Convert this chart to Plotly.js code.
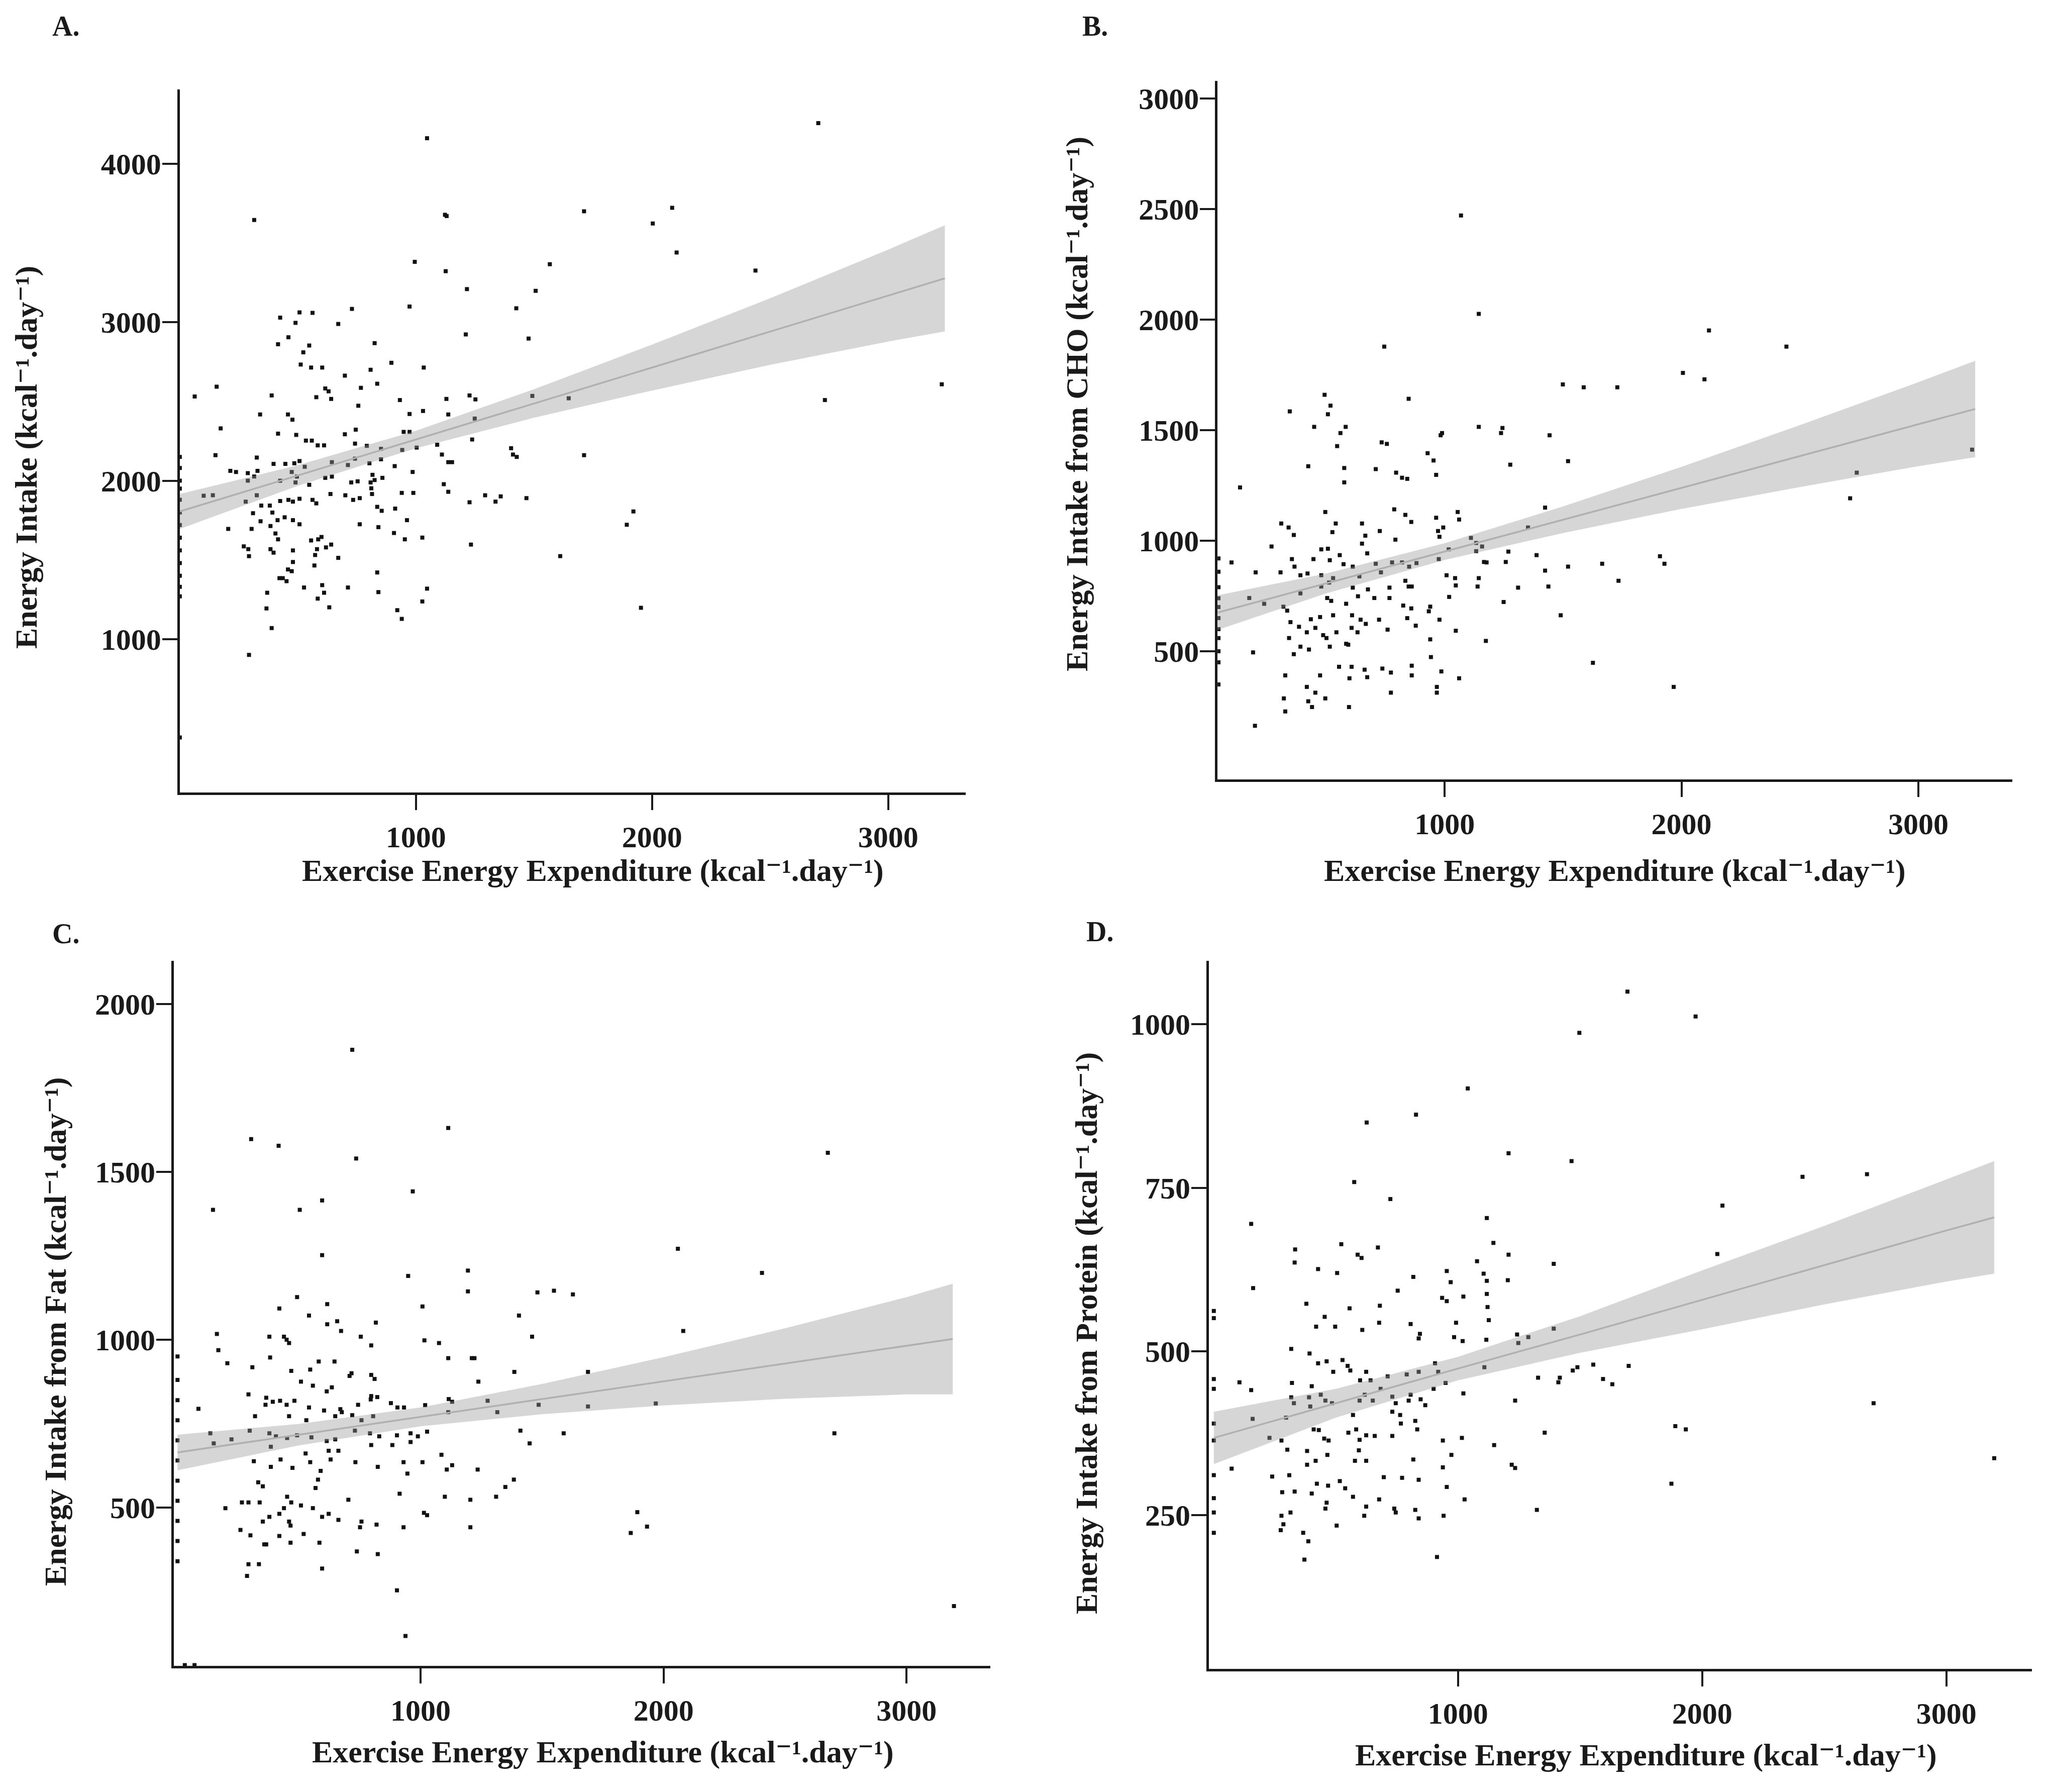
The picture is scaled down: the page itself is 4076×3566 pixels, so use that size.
<!DOCTYPE html>
<html>
<head>
<meta charset="utf-8">
<script src="https://cdn.plot.ly/plotly-3.0.1.min.js"></script>
<style>html,body{margin:0;padding:0;background:#fff;}#chart{width:4076px;height:3566px;}</style>
</head>
<body>
<div id="chart"></div>
<script>
// ---------- Panel A: Energy Intake ----------
const aX = [1047,2704,315,1123,1130,1712,2085,2003,2104,2438,995,1126,1567,1216,1507,1425,973,729,507,562,425,490,671,1211,1477,460,416,825,548,523,896,512,1033,556,603,808,699,616,630,767,836,156,63,389,578,641,756,932,1129,1227,1252,1493,1647,2732,3227,340,458,477,973,1030,1137,1249,173,416,493,699,745,948,973,534,559,611,584,1090,1238,742,792,852,942,1003,1110,1137,1153,151,1403,1411,1427,1712,326,397,447,485,507,529,712,644,742,803,852,910,214,238,288,329,474,496,616,644,816,808,825,858,986,288,315,425,490,548,726,753,811,814,940,989,1118,1137,1293,1359,1337,1227,1468,101,140,279,326,345,381,425,460,479,507,562,578,638,701,734,762,836,855,912,310,342,392,414,444,479,507,205,304,384,405,416,762,841,962,1027,907,953,271,290,384,397,479,556,586,600,581,619,641,573,293,479,671,570,1233,1611,458,474,422,436,452,526,603,712,836,841,370,367,611,584,633,1047,1027,921,940,389,293,1953,1893,1921,101,0,0,0,0,0,0,0,0,0,0,0,0,0,0];
const aY = [4161,4256,3645,3678,3670,3700,3722,3623,3440,3326,3381,3322,3366,3209,3198,3088,3099,3084,3062,3059,3029,2996,2989,2923,2897,2905,2861,2868,2853,2810,2744,2733,2714,2714,2714,2700,2663,2582,2564,2586,2612,2593,2531,2538,2527,2516,2473,2509,2516,2538,2513,2535,2520,2509,2608,2418,2418,2385,2421,2440,2418,2392,2330,2297,2289,2293,2322,2308,2308,2253,2253,2223,2223,2227,2260,2234,2220,2201,2194,2209,2165,2117,2117,2161,2205,2165,2150,2161,2146,2106,2106,2110,2124,2088,2099,2117,2139,2110,2135,2092,2062,2055,2048,2062,2055,2026,2018,2026,2037,1989,2004,2018,2055,2000,2026,2000,1989,1974,1989,1996,1952,1916,1923,1923,1978,1930,1908,1901,1868,1864,1890,1905,1908,1868,1908,1843,1843,1872,1879,1868,1886,1879,1857,1916,1908,1879,1890,1835,1810,1824,1795,1744,1799,1751,1769,1751,1725,1696,1696,1714,1667,1630,1725,1707,1751,1641,1670,1630,1586,1568,1568,1546,1560,1623,1630,1645,1568,1579,1597,1531,1524,1487,1513,1465,1597,1524,1440,1429,1385,1385,1366,1326,1341,1326,1421,1297,1293,1194,1293,1256,1201,1319,1238,1183,1128,1070,901,1198,1722,1806,18,2150,2080,2000,1950,1880,1800,1720,1640,1560,1480,1400,1330,1270,380];
const aFitX = [0,500,1000,1500,2000,2500,3000,3240];
const aFit  = [1806,2033,2260,2487,2714,2941,3168,3277];
const aLo   = [1696,1968,2205,2397,2569,2731,2878,2942];
const aHi   = [1916,2098,2315,2577,2859,3151,3458,3612];

// ---------- Panel B: Energy Intake from CHO ----------
const bX = [1069,1144,745,2116,2443,2006,2097,1499,1587,1729,848,493,518,507,346,449,582,560,546,1144,1244,1238,989,983,734,756,1443,928,576,424,709,795,820,842,964,953,1277,1521,576,136,2740,2712,3227,496,787,834,859,964,1055,1061,1424,1352,310,341,363,540,651,726,665,526,651,972,994,978,1111,1133,1158,1133,792,269,479,507,557,673,355,366,446,515,573,612,709,778,820,850,881,975,1017,1166,1269,1258,1388,1521,1665,1909,1928,100,202,307,391,421,479,529,640,731,834,848,861,1008,1044,1047,1144,1139,1177,1424,1438,1734,1310,512,479,391,612,676,767,175,238,319,335,504,521,584,634,703,767,825,859,939,933,1019,1249,1490,349,385,435,474,529,609,645,667,723,842,878,978,343,418,454,487,501,543,607,632,759,939,1047,1174,391,427,515,584,593,363,191,942,1626,554,607,662,737,773,861,861,986,1061,327,474,673,598,418,454,967,967,773,1967,321,424,440,496,596,327,199,45,45,45,45,45,45,45,45,45,45,45];
const bY = [2471,2026,1878,1951,1878,1759,1730,1707,1694,1694,1642,1660,1611,1572,1585,1515,1515,1487,1428,1515,1510,1487,1487,1477,1445,1438,1477,1396,1329,1337,1324,1308,1285,1280,1298,1363,1344,1360,1264,1241,1308,1192,1412,1130,1142,1117,1085,1104,1130,1096,1150,1060,1078,1060,1026,1078,1078,1044,1023,1039,987,1044,1060,1018,1013,990,974,953,1005,974,961,964,935,943,917,883,917,912,894,883,896,902,902,883,899,917,961,904,951,904,935,883,896,930,896,902,857,857,844,852,844,831,839,857,819,793,793,844,831,798,831,793,902,865,793,819,788,811,793,762,788,780,788,741,715,702,684,741,728,715,749,741,741,707,694,702,681,746,723,663,632,611,645,655,663,663,643,624,643,650,616,643,560,586,606,573,560,586,606,586,598,554,593,547,521,508,521,534,530,487,495,474,448,430,430,417,422,404,435,391,409,378,391,391,383,378,339,313,339,313,313,339,287,274,248,287,248,228,163,920,860,790,740,700,650,600,560,500,450,350];
const bFitX = [41,500,1000,1500,2000,2500,3000,3240];
const bFit  = [675,807,951,1095,1239,1383,1527,1596];
const bLo   = [597,762,913,1035,1144,1243,1337,1378];
const bHi   = [753,852,989,1155,1334,1523,1717,1814];

// ---------- Panel C: Energy Intake from Fat ----------
const cX = [719,303,416,735,1114,2676,968,146,503,595,595,1195,2059,2405,949,1195,1481,1549,1627,492,1008,419,616,541,1405,162,168,378,438,459,449,616,657,673,754,816,797,1016,1076,1459,2081,1114,1211,1222,205,381,308,468,508,546,581,646,708,716,797,811,557,614,797,1238,1386,1689,635,86,292,365,362,392,422,449,481,541,603,670,676,743,795,822,878,905,932,1019,1116,1130,1276,1316,1486,1689,1968,319,459,530,649,719,757,805,1114,135,149,222,297,378,405,451,492,551,614,649,730,792,830,903,959,989,1027,1411,1589,2703,384,527,622,630,662,797,884,959,1449,314,384,424,473,546,589,578,732,824,930,1008,1086,1108,1130,1235,332,351,568,946,1384,1349,1311,703,914,1100,1205,451,265,292,338,197,468,438,419,378,508,557,595,622,662,757,751,819,1014,1027,930,1205,459,465,351,259,300,419,519,357,365,465,584,738,824,1892,1865,1932,292,335,286,595,903,938,3195,30,70,0,0,0,0,0,0,0,0,0,0,0];
const cY = [1864,1598,1578,1540,1631,1557,1442,1387,1387,1415,1252,1206,1271,1199,1190,1144,1141,1146,1135,1127,1099,1093,1106,1072,1072,1017,969,1009,1009,990,1000,1046,1055,1026,1009,1051,983,998,990,1009,1026,945,945,945,930,947,918,907,875,911,935,935,892,900,895,883,863,846,832,875,904,904,858,794,837,827,806,815,818,806,818,798,789,793,784,806,822,829,811,798,798,805,823,815,818,784,806,801,810,772,772,760,772,775,760,772,784,721,691,703,729,721,712,707,715,709,698,703,729,721,712,715,721,712,726,729,721,721,681,661,669,643,669,686,686,695,691,638,621,643,618,635,609,583,635,621,635,635,657,613,626,613,575,563,558,601,583,561,532,523,541,532,523,532,515,515,515,498,515,498,481,472,506,498,472,481,463,458,441,449,484,477,441,441,458,446,458,433,417,415,421,390,390,395,395,369,361,486,424,443,331,331,296,318,253,117,206,30,30,950,880,820,760,700,640,580,520,460,400,340];
const cFitX = [0,500,1000,1500,2000,2500,3000,3190];
const cFit  = [664,717,770,823,876,929,982,1002];
const cLo   = [611,685,742,778,804,824,837,837];
const cHi   = [717,749,798,868,948,1034,1127,1167];

// ---------- Panel D: Energy Intake from Protein ----------
const dX = [1694,1973,1497,1040,828,626,1207,1465,2411,2675,575,723,2083,1118,153,333,331,522,589,605,672,1145,1207,1078,2062,427,505,817,1105,1118,1204,954,970,161,753,1392,379,680,935,954,1022,1121,1118,1126,556,454,419,497,608,677,806,844,839,992,984,1019,1116,1242,1247,1288,1392,0,0,317,392,462,427,527,548,559,489,599,624,642,712,683,790,839,906,919,949,900,1108,1328,1417,1411,1470,1489,1554,1594,1632,1699,105,153,0,0,320,401,390,438,457,484,597,618,651,731,745,798,806,847,866,731,763,570,328,317,395,1022,1234,159,228,296,277,409,430,452,470,551,583,597,624,659,731,766,825,833,938,1016,1148,1355,1890,1933,0,0,301,382,417,465,578,624,594,817,938,973,1220,1234,3196,0,73,239,309,382,422,468,516,538,570,696,771,839,954,1027,1874,2702,280,331,401,462,457,503,624,677,616,739,745,839,825,941,1323,277,314,285,274,366,387,371,914,0,0,0];
const dY = [1050,1012,987,902,862,850,803,791,767,771,759,733,723,704,695,656,636,664,648,643,659,666,648,638,649,626,620,614,619,608,609,623,606,597,593,634,573,570,582,577,584,568,588,548,566,553,538,538,533,544,542,527,520,544,522,516,518,526,513,522,535,562,551,504,497,485,482,487,478,471,469,456,469,456,462,443,465,469,482,469,452,443,476,460,460,453,471,476,480,458,450,478,453,441,458,443,452,447,430,434,425,421,425,434,425,431,421,425,434,427,418,408,403,403,421,430,416,436,425,397,368,399,364,381,380,367,364,376,381,365,372,371,371,390,394,381,364,368,357,376,386,381,390,364,350,348,333,342,333,333,349,335,323,342,327,322,337,311,321,309,311,327,298,295,302,291,278,308,307,304,293,274,298,421,285,286,283,269,260,234,263,274,249,260,254,245,258,249,258,249,254,236,227,223,210,182,186,276,254,223];
const dFitX = [0,500,1000,1500,2000,2500,3000,3196];
const dFit  = [368,421,474,526,579,632,685,705];
const dLo   = [328,399,456,498,534,572,607,619];
const dHi   = [408,443,492,554,624,692,763,791];

// ---------- tick labels ----------
const xTicks = [1000,2000,3000];
const aTicks = [1000,2000,3000,4000];
const bTicks = [500,1000,1500,2000,2500,3000];
const cTicks = [500,1000,1500,2000];
const dTicks = [250,500,750,1000];

const unit = ' (kcal\u207B\u00B9.day\u207B\u00B9)';
const xTitle = 'Exercise Energy Expenditure' + unit;
const yTitles = ['Energy Intake' + unit, 'Energy Intake from CHO' + unit,
                 'Energy Intake from Fat' + unit, 'Energy Intake from Protein' + unit];

const W = 4076, H = 3566;
const FONT = 'Liberation Serif, DejaVu Serif, serif';
const INK = '#1a1a1a';

function panelTraces(px, py, fx, fit, lo, hi, xa, ya) {
  const bandX = fx.concat(fx.slice().reverse());
  const bandY = hi.concat(lo.slice().reverse());
  return [
    {type:'scatter', mode:'markers', x:px, y:py, xaxis:xa, yaxis:ya,
     marker:{size:8, color:'#111', symbol:'square'}, hoverinfo:'skip', showlegend:false},
    {type:'scatter', mode:'lines', x:bandX, y:bandY, xaxis:xa, yaxis:ya,
     fill:'toself', fillcolor:'rgba(153,153,153,0.4)', line:{width:0},
     hoverinfo:'skip', showlegend:false},
    {type:'scatter', mode:'lines', x:fx, y:fit, xaxis:xa, yaxis:ya,
     line:{color:'#b0b0b0', width:3.5}, hoverinfo:'skip', showlegend:false}
  ];
}

const data = [].concat(
  panelTraces(aX, aY, aFitX, aFit, aLo, aHi, 'x', 'y'),
  panelTraces(bX, bY, bFitX, bFit, bLo, bHi, 'x2', 'y2'),
  panelTraces(cX, cY, cFitX, cFit, cLo, cHi, 'x3', 'y3'),
  panelTraces(dX, dY, dFitX, dFit, dLo, dHi, 'x4', 'y4')
);

function xAxis(domain, range, anchor) {
  return {domain:domain, range:range, anchor:anchor, tickvals:xTicks,
    showline:true, linecolor:INK, linewidth:5, ticks:'outside', ticklen:30, tickwidth:4, tickcolor:INK,
    showgrid:false, zeroline:false, ticklabelstandoff:2,
    tickfont:{family:FONT, size:60, color:INK, weight:'bold'}};
}
function yAxis(domain, range, anchor, ticks) {
  return {domain:domain, range:range, anchor:anchor, tickvals:ticks,
    showline:true, linecolor:INK, linewidth:5, ticks:'outside', ticklen:30, tickwidth:4, tickcolor:INK,
    showgrid:false, zeroline:false, ticklabelstandoff:-10,
    tickfont:{family:FONT, size:60, color:INK, weight:'bold'}};
}

function lab(t, px, py) {
  return {text:t, x:px / W, y:1 - py / H, xref:'paper', yref:'paper', showarrow:false,
    xanchor:'left', yanchor:'middle', font:{family:FONT, size:56, color:INK, weight:'bold'}};
}
function ttl(t, px, py, angle) {
  return {text:t, x:px / W, y:1 - py / H, xref:'paper', yref:'paper', showarrow:false,
    xanchor:'center', yanchor:'middle', textangle:angle,
    font:{family:FONT, size:62, color:INK, weight:'bold'}};
}

const layout = {
  width:W, height:H, margin:{l:0, r:0, t:0, b:0},
  paper_bgcolor:'#fff', plot_bgcolor:'#fff', showlegend:false,
  xaxis:  xAxis([0.0878,0.4715], [0,3328], 'y'),
  yaxis:  yAxis([0.5578,0.9501], [33,4469], 'x', aTicks),
  xaxis2: xAxis([0.5945,0.9826], [41,3397], 'y2'),
  yaxis2: yAxis([0.5651,0.9549], [-79,3080], 'x2', bTicks),
  xaxis3: xAxis([0.0849,0.4836], [-15,3345], 'y3'),
  yaxis3: yAxis([0.0704,0.4638], [28,2129], 'x3', cTicks),
  xaxis4: xAxis([0.5903,0.9921], [-20,3350], 'y4'),
  yaxis4: yAxis([0.0687,0.4638], [15,1097], 'x4', dTicks),
  annotations:[
    lab('A.', 102, 52),
    lab('B.', 2152, 52),
    lab('C.', 102, 1858),
    lab('D.', 2160, 1854),
    ttl(xTitle, 1180, 1732, 0),
    ttl(xTitle, 3214, 1732, 0),
    ttl(xTitle, 1200, 3486, 0),
    ttl(xTitle, 3276, 3492, 0),
    ttl(yTitles[0], 52, 910, -90),
    ttl(yTitles[1], 2143, 804, -90),
    ttl(yTitles[2], 110, 2650, -90),
    ttl(yTitles[3], 2162, 2653, -90)
  ]
};

Plotly.newPlot('chart', data, layout, {staticPlot:true, displayModeBar:false});
</script>
</body>
</html>
